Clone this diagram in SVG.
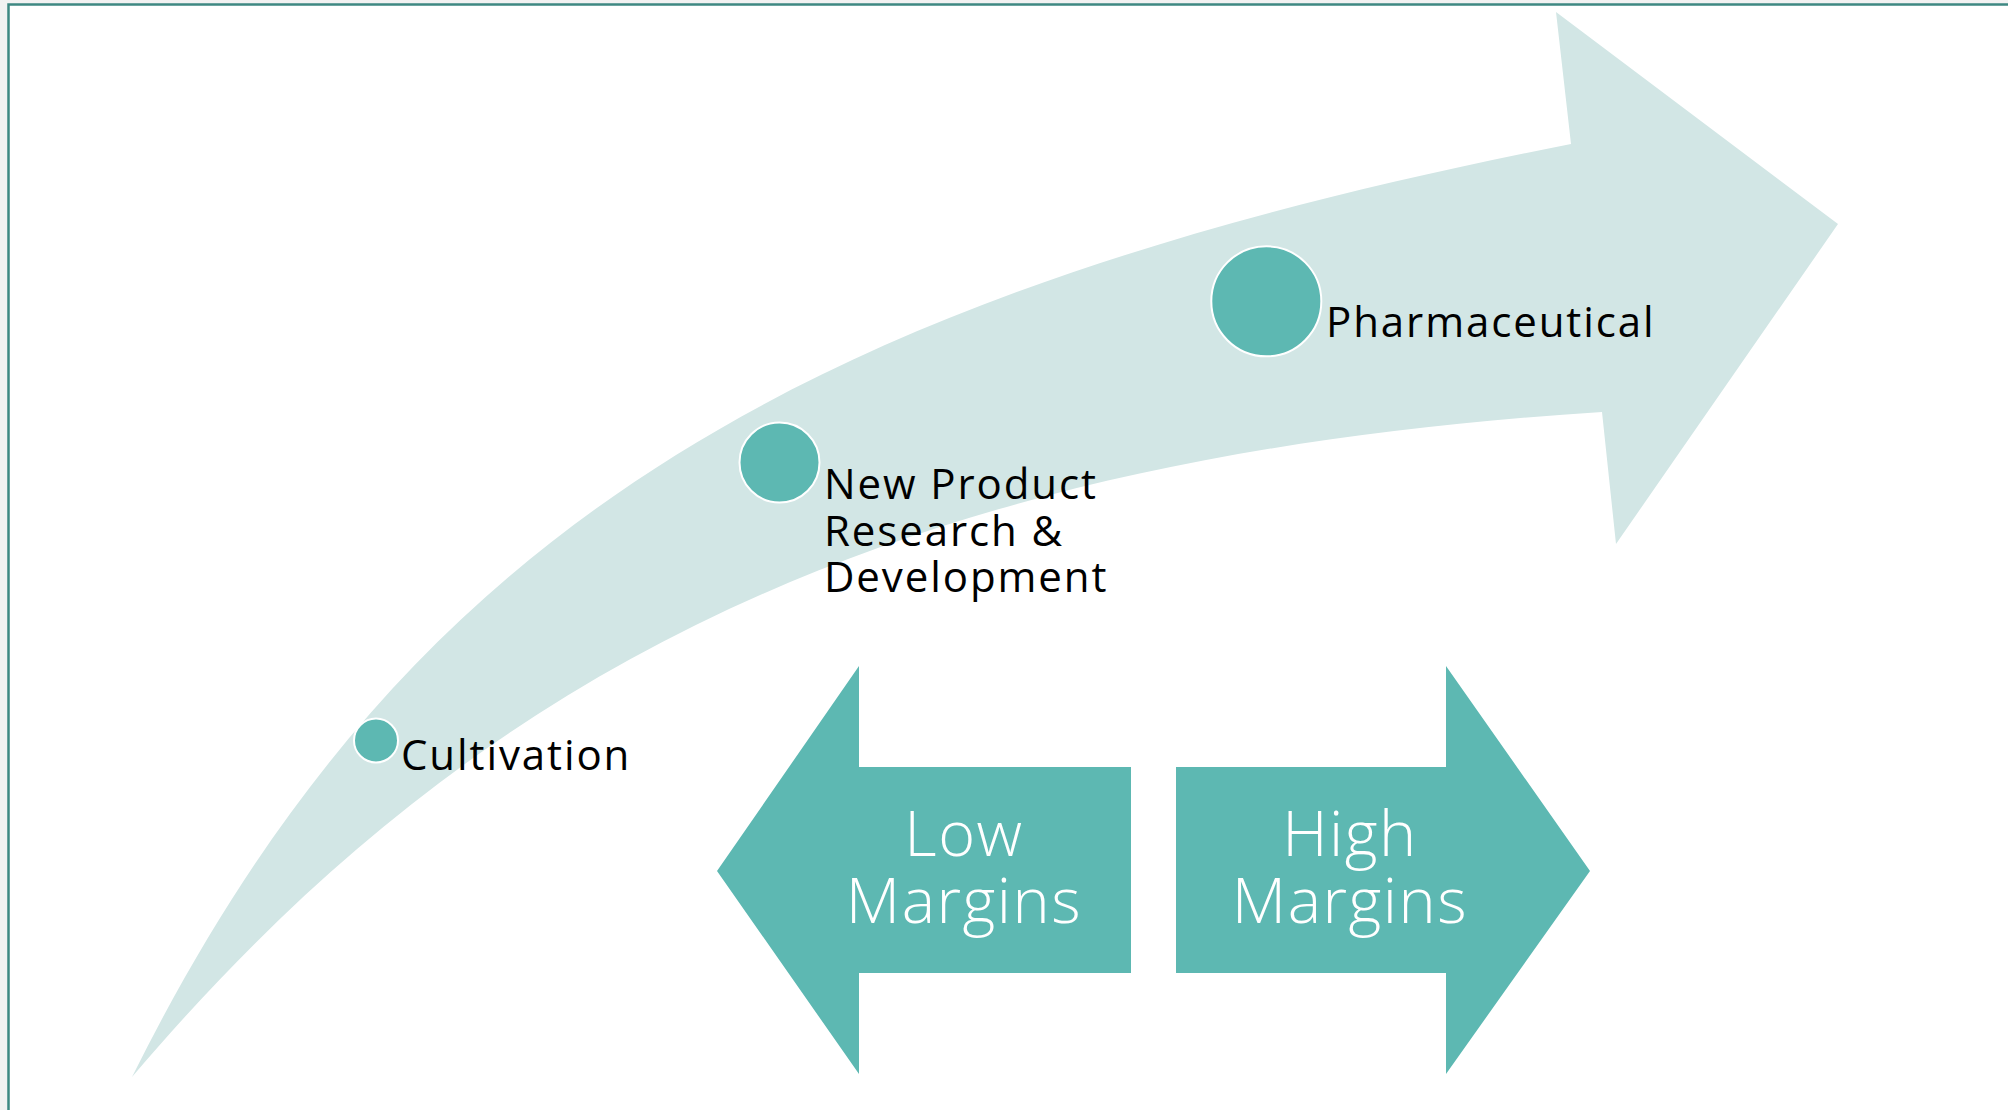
<svg xmlns="http://www.w3.org/2000/svg" width="2008" height="1110" viewBox="0 0 2008 1110">
  <style>
    .band { fill: #d2e6e5; }
    .dot { fill: #5db8b2; stroke: #ffffff; stroke-width: 2; }
    .label { font-family: "Open Sans", "Liberation Sans", sans-serif; font-size: 42px; fill: #000000; letter-spacing: 1.9px; }
    .box { fill: #5db8b2; }
    .boxtext { font-family: "Open Sans", "Liberation Sans", sans-serif; font-size: 63px; font-weight: 300; fill: #ffffff; text-anchor: middle; letter-spacing: 1.5px; }
  </style>
  <rect x="0" y="0" width="2008" height="1110" fill="#f2f2f2"/>
  <rect x="8.5" y="4.5" width="2100" height="1200" fill="#ffffff" stroke="#3e8882" stroke-width="2.5"/>

  <g id="connectors">
    <path id="growth-arrow" class="band" d="M 132 1077 C 399 540, 786 298, 1571 144 L 1556 12 L 1838 224 L 1616 544 L 1602 412 C 853 459, 456 696, 132 1077 Z"/>
  </g>

  <g id="node-cultivation">
    <circle class="dot" cx="376" cy="740.5" r="22"/>
    <text class="label" x="401" y="770">Cultivation</text>
  </g>

  <g id="node-new-product">
    <circle class="dot" cx="779.5" cy="462.5" r="40"/>
    <text class="label" x="824" y="499">New Product</text>
    <text class="label" x="824" y="545.7">Research &amp;</text>
    <text class="label" x="824" y="592.3">Development</text>
  </g>

  <g id="node-pharmaceutical">
    <circle class="dot" cx="1266.3" cy="301.3" r="55"/>
    <text class="label" x="1326" y="337.3">Pharmaceutical</text>
  </g>

  <g id="node-low-margins">
    <polygon class="box" points="717,871 859,666 859,767 1131,767 1131,973 859,973 859,1074"/>
    <text class="boxtext" x="964" y="855.7">Low</text>
    <text class="boxtext" x="964" y="923.3">Margins</text>
  </g>

  <g id="node-high-margins">
    <polygon class="box" points="1590,871 1446,666 1446,767 1176,767 1176,973 1446,973 1446,1074"/>
    <text class="boxtext" x="1350" y="855.7">High</text>
    <text class="boxtext" x="1350" y="923.3">Margins</text>
  </g>
</svg>
